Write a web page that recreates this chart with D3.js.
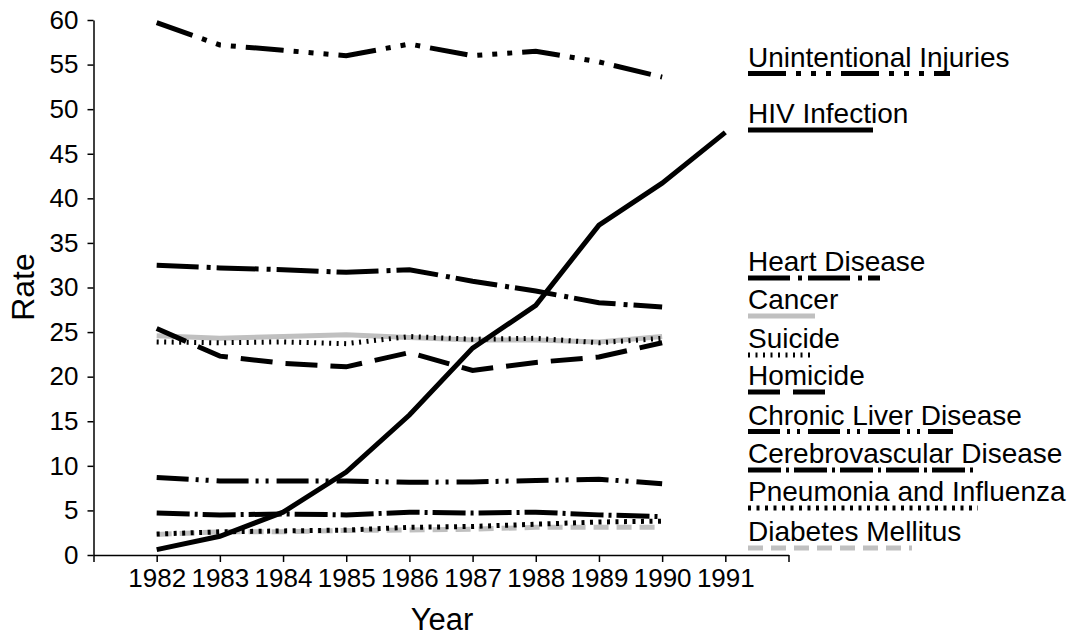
<!DOCTYPE html>
<html>
<head>
<meta charset="utf-8">
<script src="https://cdn.jsdelivr.net/npm/d3@7"></script>
<style>
  body { margin: 0; background: #fff; }
  text { font-family: "Liberation Sans", Arial, sans-serif; fill: #000; }
</style>
</head>
<body>
<script>
const width = 1081;
const height = 640;

// data (rate per 100,000)
const years = [1982, 1983, 1984, 1985, 1986, 1987, 1988, 1989, 1990, 1991];
const causes = ["Unintentional Injuries", "HIV Infection", "Heart Disease", "Cancer", "Suicide",
  "Homicide", "Chronic Liver Disease", "Cerebrovascular Disease", "Pneumonia and Influenza", "Diabetes Mellitus"];

const unintentional = [59.7, 57.2, 56.6, 56.0, 57.3, 56.0, 56.5, 55.3, 53.6];
const hiv = [0.6, 2.1, 4.8, 9.3, 15.7, 23.2, 28.0, 37.0, 41.7, 47.4];
const heart = [32.5, 32.2, 32.0, 31.7, 32.0, 30.7, 29.6, 28.3, 27.8];
const cancer = [24.6, 24.3, 24.5, 24.7, 24.4, 24.1, 24.1, 23.9, 24.5];
const suicide = [23.9, 23.8, 23.9, 23.7, 24.5, 24.2, 24.3, 23.8, 24.3];
const homicide = [25.4, 22.3, 21.5, 21.1, 22.7, 20.7, 21.6, 22.2, 23.8];
const liver = [8.7, 8.3, 8.3, 8.3, 8.15, 8.2, 8.35, 8.5, 8.0];
const cerebro = [4.7, 4.5, 4.6, 4.5, 4.8, 4.7, 4.8, 4.5, 4.3];
const pneumonia = [2.35, 2.6, 2.7, 2.8, 3.1, 3.2, 3.45, 3.7, 3.8];
const diabetes = [2.3, 2.6, 2.6, 2.75, 2.8, 2.9, 3.1, 3.1, 3.1];

const yTicks = [0, 5, 10, 15, 20, 25, 30, 35, 40, 45, 50, 55, 60];

// styles, same order as causes
const styles = [
  { color: "#000", dash: "38,10,5,10,5,10,5,10", len: 202 },
  { color: "#000", dash: null, len: 125 },
  { color: "#000", dash: "42,8,4,6", len: 132 },
  { color: "#c0c0c0", dash: null, len: 67 },
  { color: "#000", dash: "2,5.5", len: 67 },
  { color: "#000", dash: "32,13", len: 79 },
  { color: "#000", dash: "32,7,3,7,3,8", len: 205 },
  { color: "#000", dash: "33,5,3,5", len: 225 },
  { color: "#000", dash: "3,5.5", len: 230 },
  { color: "#c0c0c0", dash: "15,8", len: 164 }
];
const legendY = [73.5, 130, 278, 316, 355, 392, 431.5, 470, 508, 548];

const series = [unintentional, hiv, heart, cancer, suicide, homicide, liver, cerebro, pneumonia, diabetes]
  .map((vals, i) => ({ name: causes[i], style: styles[i], ly: legendY[i],
    points: vals.map((v, j) => ({ year: years[j], value: v })) }));

const svg = d3.select("body").append("svg")
  .attr("width", width)
  .attr("height", height);

const x = d3.scaleLinear().domain([1981, 1992]).range([93.5, 788.5]);
const y = d3.scaleLinear().domain([0, 60]).range([555, 20]);

// y axis
const yAxis = svg.append("g")
  .attr("transform", `translate(${x(1981)},0)`)
  .call(d3.axisLeft(y).tickValues(yTicks).tickSize(6).tickSizeOuter(0).tickPadding(9));
yAxis.select(".domain").attr("stroke", "#000").attr("stroke-width", 1.5);
yAxis.selectAll(".tick line").attr("stroke", "#000").attr("stroke-width", 1.5);
yAxis.selectAll(".tick text").attr("font-size", 26).attr("font-family", "Liberation Sans, Arial, sans-serif").attr("fill", "#000");

// x axis
const xAxis = svg.append("g")
  .attr("transform", `translate(0,${y(0)})`)
  .call(d3.axisBottom(x).tickValues(d3.range(1981, 1993)).tickSize(7).tickSizeOuter(0).tickPadding(7)
    .tickFormat(d => years.includes(d) ? d : ""));
xAxis.select(".domain").attr("stroke", "#000").attr("stroke-width", 1.5);
xAxis.selectAll(".tick line").attr("stroke", "#000").attr("stroke-width", 1.5);
xAxis.selectAll(".tick text").attr("font-size", 26).attr("font-family", "Liberation Sans, Arial, sans-serif").attr("fill", "#000");

// axis titles
svg.append("text")
  .attr("x", 442).attr("y", 630)
  .attr("text-anchor", "middle")
  .attr("font-size", 31)
  .text("Year");

svg.append("text")
  .attr("transform", "translate(34,287) rotate(-90)")
  .attr("text-anchor", "middle")
  .attr("font-size", 32)
  .text("Rate");

const line = d3.line().x(d => x(d.year)).y(d => y(d.value));

// gray lines underneath, HIV on top
const drawOrder = [3, 9, 0, 2, 4, 5, 6, 7, 8, 1];
svg.append("g").selectAll("path")
  .data(drawOrder.map(i => series[i]))
  .join("path")
  .attr("d", d => line(d.points))
  .attr("fill", "none")
  .attr("stroke", d => d.style.color)
  .attr("stroke-width", 5)
  .attr("stroke-dasharray", d => d.style.dash)
  .attr("stroke-linejoin", "miter")
  .attr("stroke-linecap", "butt");

// legend
const legend = svg.append("g").selectAll("g")
  .data(series)
  .join("g")
  .attr("transform", d => `translate(748,${d.ly})`);

legend.append("text")
  .attr("x", 0).attr("y", -7)
  .attr("font-size", 28)
  .text(d => d.name);

legend.append("line")
  .attr("x1", 0).attr("x2", d => d.style.len)
  .attr("y1", 0).attr("y2", 0)
  .attr("stroke", d => d.style.color)
  .attr("stroke-width", 5)
  .attr("stroke-dasharray", d => d.style.dash);
</script>
</body>
</html>
